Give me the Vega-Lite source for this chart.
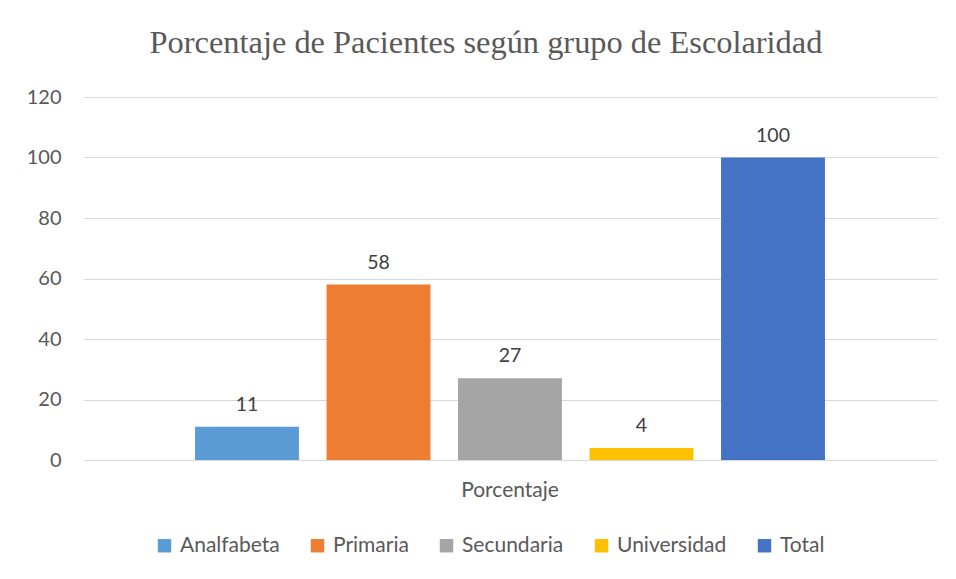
{
  "$schema": "https://vega.github.io/schema/vega-lite/v6.json",
  "width": 854,
  "height": 363,
  "autosize": {"type": "none"},
  "padding": {"left": 83, "top": 97, "right": 19, "bottom": 119},
  "background": "white",
  "title": {
    "text": "Porcentaje de Pacientes según grupo de Escolaridad",
    "font": "Liberation Serif",
    "fontSize": 32.4,
    "fontWeight": "normal",
    "color": "#595959",
    "anchor": "middle",
    "frame": "group",
    "dx": -24,
    "offset": 28
  },
  "data": {
    "values": [
      {"grupo": "Porcentaje", "Escolaridad": "Analfabeta", "valor": 11},
      {"grupo": "Porcentaje", "Escolaridad": "Primaria", "valor": 58},
      {"grupo": "Porcentaje", "Escolaridad": "Secundaria", "valor": 27},
      {"grupo": "Porcentaje", "Escolaridad": "Universidad", "valor": 4},
      {"grupo": "Porcentaje", "Escolaridad": "Total", "valor": 100}
    ]
  },
  "encoding": {
    "x": {
      "field": "grupo",
      "type": "nominal",
      "scale": {"paddingInner": 0, "paddingOuter": 0.1494},
      "axis": {
        "title": null,
        "labelAngle": 0,
        "labelFont": "Lato",
        "labelFontSize": 21,
        "labelColor": "#595959",
        "labelPadding": 19,
        "ticks": false,
        "domainColor": "#D9D9D9",
        "domainWidth": 1
      }
    },
    "xOffset": {
      "field": "Escolaridad",
      "type": "nominal",
      "sort": ["Analfabeta", "Primaria", "Secundaria", "Universidad", "Total"],
      "scale": {"paddingInner": 0.21, "paddingOuter": 0.105}
    },
    "y": {
      "field": "valor",
      "type": "quantitative",
      "scale": {"domain": [0, 120]},
      "axis": {
        "title": null,
        "values": [0, 20, 40, 60, 80, 100, 120],
        "labelFont": "Lato",
        "labelFontSize": 20,
        "labelColor": "#595959",
        "labelPadding": 22,
        "ticks": false,
        "domain": false,
        "gridColor": "#D9D9D9",
        "gridWidth": 1
      }
    }
  },
  "layer": [
    {
      "mark": {"type": "bar"},
      "encoding": {
        "color": {
          "field": "Escolaridad",
          "type": "nominal",
          "sort": ["Analfabeta", "Primaria", "Secundaria", "Universidad", "Total"],
          "scale": {
            "domain": ["Analfabeta", "Primaria", "Secundaria", "Universidad", "Total"],
            "range": ["#5B9BD5", "#ED7D31", "#A5A5A5", "#FFC000", "#4472C4"]
          },
          "legend": {
            "title": null,
            "orient": "none",
            "direction": "horizontal",
            "legendX": 71,
            "legendY": 438,
            "symbolType": "square",
            "symbolSize": 180,
            "symbolStrokeWidth": 0,
            "labelFont": "Lato",
            "labelFontSize": 21,
            "labelColor": "#595959",
            "labelOffset": 5,
            "columnPadding": 27
          }
        }
      }
    },
    {
      "mark": {
        "type": "text",
        "baseline": "bottom",
        "dy": -12,
        "font": "Lato",
        "fontSize": 19.5,
        "color": "#404040"
      },
      "encoding": {
        "text": {"field": "valor", "type": "quantitative"}
      }
    }
  ],
  "config": {
    "view": {"stroke": null}
  }
}
